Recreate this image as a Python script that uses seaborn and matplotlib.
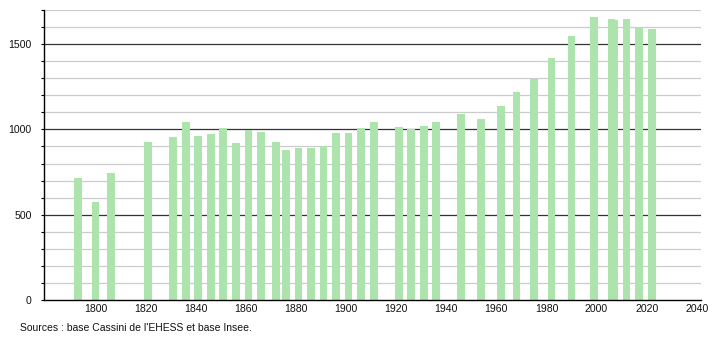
import matplotlib
matplotlib.use("Agg")
import matplotlib.pyplot as plt
import seaborn as sns
import pandas as pd
from matplotlib.ticker import MultipleLocator

years = [1793, 1800, 1806, 1821, 1831, 1836, 1841, 1846, 1851, 1856, 1861, 1866,
         1872, 1876, 1881, 1886, 1891, 1896, 1901, 1906, 1911, 1921, 1926, 1931,
         1936, 1946, 1954, 1962, 1968, 1975, 1982, 1990, 1999, 2006, 2007, 2012,
         2017, 2022]
population = [714, 573, 745, 925, 955, 1041, 961, 973, 1008, 920, 994, 986,
              924, 878, 890, 890, 902, 978, 978, 1008, 1041, 1016, 1002, 1020,
              1041, 1090, 1063, 1135, 1218, 1298, 1416, 1547, 1661, 1648, 1643, 1649,
              1600, 1588]
source_text = "Sources : base Cassini de l'EHESS et base Insee."

df = pd.DataFrame({"year": years, "population": population})

sns.set_theme(style="white")
plt.rcParams["font.family"] = ["Liberation Sans", "DejaVu Sans"]

fig = plt.figure(figsize=(7.1, 3.4), dpi=100)
ax = fig.add_axes([44 / 710, 40 / 340, (700.5 - 44) / 710, 290 / 340])

sns.barplot(data=df, x="year", y="population", native_scale=True, width=3.1,
            color="#ade3ad", saturation=1, ax=ax, zorder=3, linewidth=0)

ax.set_xlim(1779.4, 2041.5)
ax.set_ylim(0, 1700)

ax.yaxis.set_major_locator(MultipleLocator(500))
ax.yaxis.set_minor_locator(MultipleLocator(100))
ax.set_xticks(list(range(1800, 2041, 20)))
ax.set_xticklabels([str(v) for v in range(1800, 2041, 20)])

ax.grid(False)
for v in range(100, 1701, 100):
    if v % 500 == 0:
        ax.axhline(v, color="#333333", linewidth=0.9, zorder=1)
    else:
        ax.axhline(v, color="#cccccc", linewidth=0.9, zorder=1)

for s in ["top", "right"]:
    ax.spines[s].set_visible(False)
for s in ["left", "bottom"]:
    ax.spines[s].set_visible(True)
    ax.spines[s].set_color("black")
    ax.spines[s].set_linewidth(1.0)
    ax.spines[s].set_zorder(4)

ax.tick_params(axis="y", which="both", left=True, length=2.5, width=0.8,
               color="black", labelsize=7.6, pad=6.5)
ax.tick_params(axis="x", which="both", bottom=False, length=0, labelsize=7.6, pad=3)
for lab in ax.get_xticklabels() + ax.get_yticklabels():
    lab.set_color("#111111")

ax.set_xlabel("")
ax.set_ylabel("")

fig.text(20 / 710, 1 - 328 / 340, source_text, fontsize=7.5, color="#111111",
         va="center", ha="left")

fig.savefig("out.png", dpi=100)
